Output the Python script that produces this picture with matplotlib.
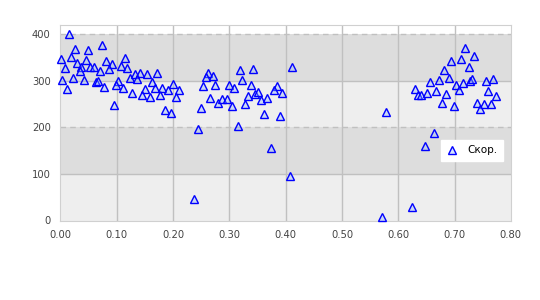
import matplotlib
matplotlib.use('Agg')
import matplotlib.pyplot as plt

# Данные
x = [0.001, 0.0156, 0.0266, 0.0494, 0.0742, 0.019, 0.0298, 0.0456, 0.0373, 0.035,
     0.0524, 0.059, 0.0089, 0.0808, 0.0909, 0.115, 0.0865, 0.0705, 0.108, 0.1187,
     0.0032, 0.0227, 0.042, 0.0636, 0.0671, 0.0121, 0.0778, 0.1027, 0.099, 0.1115,
     0.1243, 0.1329, 0.1407, 0.1359, 0.1542, 0.172, 0.163, 0.1678, 0.1506, 0.1275,
     0.1453, 0.1595, 0.1773, 0.1808, 0.0956, 0.186, 0.197,
     0.2004, 0.1915, 0.211, 0.2057, 0.2625, 0.2579, 0.2714, 0.2536, 0.275, 0.266,
     0.25, 0.28, 0.2863, 0.2952, 0.2993, 0.3087, 0.3052, 0.3194, 0.3425, 0.3229,
     0.3389, 0.3336, 0.3282, 0.3455, 0.3513, 0.3567, 0.3673, 0.3845, 0.3797, 0.394,
     0.4115, 0.362, 0.3908,
     0.2448, 0.3157, 0.3744, 0.408, 0.2377, 0.5787, 0.5716, 0.6249,
     0.719, 0.735, 0.712, 0.694, 0.725, 0.6817, 0.6906, 0.6728, 0.6568, 0.6302,
     0.6345, 0.6398, 0.6515, 0.6675, 0.6853, 0.703, 0.7155, 0.7084, 0.7279, 0.7314,
     0.7563, 0.7687, 0.7598, 0.774, 0.678, 0.6994, 0.7403, 0.7517, 0.765, 0.7456,
     0.664, 0.648]
y = [347, 400, 368, 366, 376, 350, 338, 345, 330, 322,
     330, 329, 327, 343, 337, 349, 325, 321, 332, 327,
     301, 307, 301, 297, 299, 282, 286, 299, 292, 284,
     307, 315, 316, 303, 314, 316, 298, 284, 282, 273,
     269, 265, 269, 284, 247, 237, 230,
     294, 280, 280, 266, 316, 309, 311, 288, 290, 264,
     241, 253, 261, 261, 290, 285, 246, 323, 325, 301,
     290, 268, 250, 271, 275, 258, 264, 288, 280, 273,
     329, 229, 224,
     196, 203, 155, 95, 47, 233, 8, 28,
     370, 354, 347, 342, 329, 323, 306, 301, 298, 282,
     269, 269, 274, 278, 272, 291, 295, 280, 299, 304,
     300, 304, 278, 267, 253, 246, 253, 250, 250, 239,
     187, 160]
label = 'Скор.'

fig = plt.figure(figsize=(5.4, 3), dpi=100)
ax = fig.add_axes([0.112, 0.265, 0.834, 0.652])

# полосы фона
for lo, hi, c in [(0, 100, '#eeeeee'), (100, 200, '#dddddd'),
                  (200, 300, '#eeeeee'), (300, 400, '#dddddd')]:
    ax.axhspan(lo, hi, color=c, zorder=0, lw=0)
for v in [100, 300]:
    ax.axhline(v, color='#c0c0c0', lw=1, zorder=1)
for v in [200, 400]:
    ax.axhline(v, color='#c0c0c0', lw=1, ls=(0, (4, 3)), zorder=1)
for v in [0.1, 0.2, 0.3, 0.4, 0.5, 0.6, 0.7]:
    ax.axvline(v, color='#c0c0c0', lw=1, zorder=1)

ax.plot(x, y, ls='none', marker='^', ms=5.2, mec='#0000ff',
        mfc=(0.55, 0.7, 1.0, 0.35), mew=1.0, label=label, zorder=3, clip_on=False)

ax.set_xlim(0, 0.8)
ax.set_ylim(0, 420)
ax.set_xticks([0.0, 0.1, 0.2, 0.3, 0.4, 0.5, 0.6, 0.7, 0.8])
ax.set_xticklabels(['0.00', '0.10', '0.20', '0.30', '0.40', '0.50', '0.60', '0.70', '0.80'])
ax.set_yticks([0, 100, 200, 300, 400])
ax.tick_params(length=0, labelsize=7.2, labelcolor='#444444', pad=7)
for s in ax.spines.values():
    s.set_color('#d0d0d0')

leg = ax.legend(loc='center right', bbox_to_anchor=(0.982, 0.359), fontsize=7.5,
                frameon=True, fancybox=False, edgecolor='white', framealpha=1,
                handlelength=1.0, handletextpad=0.9, borderpad=0.55, borderaxespad=0)

fig.savefig('out.png', dpi=100)
